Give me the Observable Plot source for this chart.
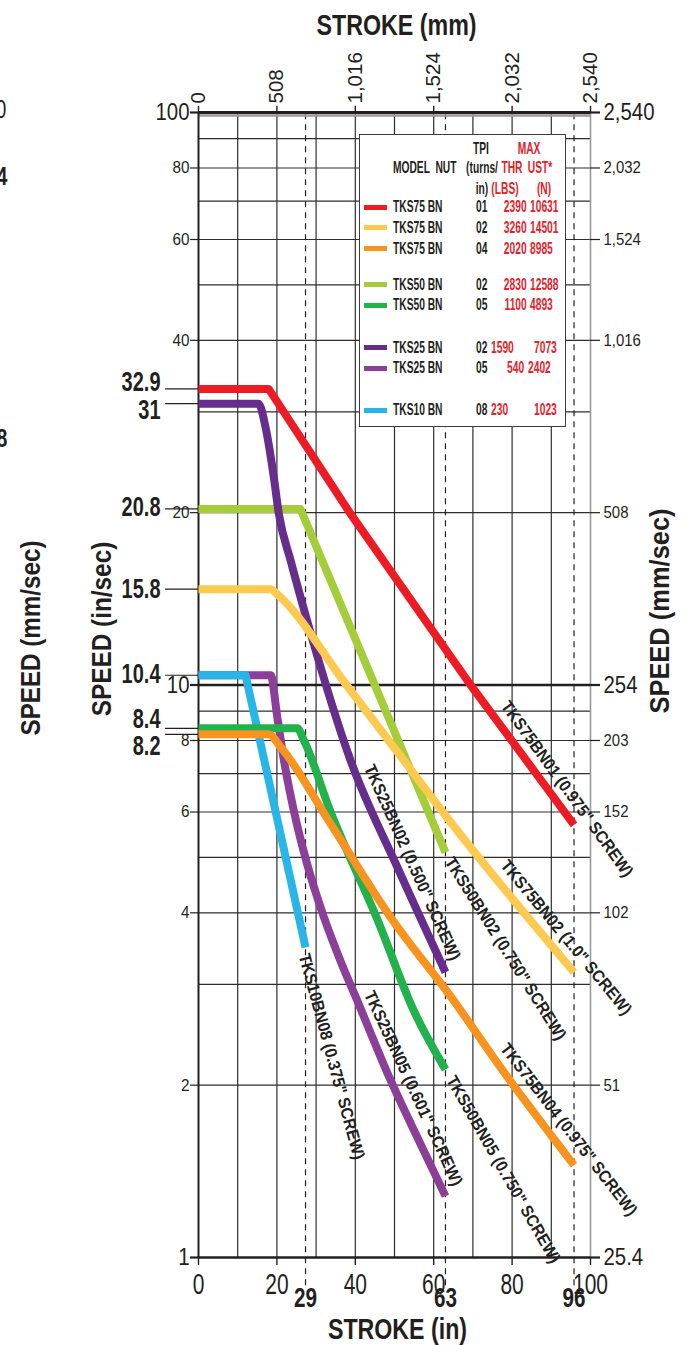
<!DOCTYPE html>
<html>
<head>
<meta charset="utf-8">
<script src="https://cdn.jsdelivr.net/npm/d3@7"></script>
<script src="https://cdn.jsdelivr.net/npm/@observablehq/plot@0.6"></script>
<style>
html,body{margin:0;padding:0;background:#fff;}
#page{position:relative;width:688px;height:1345px;overflow:hidden;font-family:"Liberation Sans",Arial,sans-serif;color:#231f20;}
#chart{position:absolute;left:0;top:0;}
#legendBox{position:absolute;left:359px;top:134px;width:205px;height:291px;background:#fff;border:1.4px solid #3c3c3c;}
.t{position:absolute;white-space:pre;line-height:1;font-weight:bold;}
.red{color:#e3212b;}
.sw{position:absolute;height:5px;width:23px;}
</style>
</head>
<body>
<div id="page"><div id="chart"></div><div id="legendBox"></div></div>
<script>
// ---------- data ----------
const strokeTicksIn = [0, 20, 40, 60, 80, 100];
const strokeTicksMm = ["0", "508", "1,016", "1,524", "2,032", "2,540"];
const strokeGridIn = [10, 20, 30, 40, 50, 60, 70, 80, 90];
const speedGridIn = [90, 80, 70, 60, 50, 40, 30, 20, 9, 8, 7, 6, 5, 4, 3, 2];
const speedTicksIn = [100, 80, 60, 40, 20, 10, 8, 6, 4, 2, 1];
const speedTicksMm = ["2,540", "2,032", "1,524", "1,016", "508", "254", "203", "152", "102", "51", "25.4"];
const speedTicksMajor = [100, 10, 1];

// speed (in/sec) vs stroke (in)
const tks75bn01 = [[0, 32.9], [17.9, 32.9], [38.8, 19.9], [69.4, 10.0], [95.8, 5.7]];
const tks75bn02 = [[0, 14.7], [18.4, 14.7], [20.1, 14.4], [37.5, 10.05], [52.4, 7.38], [63.9, 5.81], [95.8, 3.15]];
const tks75bn04 = [[0, 8.2], [17.9, 8.2], [20.9, 7.8], [33.7, 5.72], [49, 3.93], [65.1, 2.81], [77, 2.15], [95.8, 1.45]];
const tks50bn02 = [[0, 20.3], [26, 20.3], [63, 5.1]];
const tks50bn05 = [[0, 8.4], [25.2, 8.4], [26.9, 8.0], [33.7, 6.0], [45.6, 3.9], [54.9, 2.7], [63, 2.13]];
const tks25bn02 = [[0, 31], [15.3, 31], [17.1, 28.2], [19.2, 23.1], [20.5, 19.9], [23.5, 16.5], [27.7, 12.96], [38.8, 7.38], [50.7, 4.81], [63, 3.15]];
const tks25bn05 = [[0, 10.4], [18.4, 10.4], [20.1, 8.79], [21.8, 7.38], [24.3, 6.04], [27.7, 4.87], [32.0, 3.93], [36.2, 3.30], [40.5, 2.81], [49, 2.04], [56.6, 1.58], [63, 1.28]];
const tks10bn08 = [[0, 10.4], [12, 10.4], [27.3, 3.48]];

const markedStrokeText = ["29", "63", "96"];
const markedSpeedText = ["32.9", "31", "20.8", "15.8", "10.4", "8.4", "8.2"];

const legendModel = ["TKS75 BN", "TKS75 BN", "TKS75 BN", "TKS50 BN", "TKS50 BN", "TKS25 BN", "TKS25 BN", "TKS10 BN"];
const legendTpi = ["01", "02", "04", "02", "05", "02", "05", "08"];
const legendLbs = ["2390", "3260", "2020", "2830", "1100", "1590", "540", "230"];
const legendN = ["10631", "14501", "8985", "12588", "4893", "7073", "2402", "1023"];

const curveLabelText = ['TKS75BN01 (0.975" SCREW)', 'TKS75BN02 (1.0" SCREW)', 'TKS50BN02 (0.750" SCREW)', 'TKS25BN02 (0.500" SCREW)',
  'TKS10BN08 (0.375" SCREW)', 'TKS25BN05 (0.601" SCREW)', 'TKS50BN05 (0.750" SCREW)', 'TKS75BN04 (0.975" SCREW)'];

// ---------- styling / layout ----------
const C = {red: "#ed1c24", yellow: "#fdc94e", orange: "#f7931e", lime: "#a5cd39", green: "#22b14c", dpurple: "#662d8c", lpurple: "#8c3f99", cyan: "#29b5e8"};
const legendColors = [C.red, C.yellow, C.orange, C.lime, C.green, C.dpurple, C.lpurple, C.cyan];
const drawOrder = [
  {pts: tks25bn05, color: C.lpurple, curve: "monotone-x"}, {pts: tks10bn08, color: C.cyan, curve: "linear"},
  {pts: tks50bn05, color: C.green, curve: "monotone-x"}, {pts: tks75bn04, color: C.orange, curve: "monotone-x"},
  {pts: tks50bn02, color: C.lime, curve: "linear"}, {pts: tks25bn02, color: C.dpurple, curve: "monotone-x"},
  {pts: tks75bn02, color: C.yellow, curve: "monotone-x"}, {pts: tks75bn01, color: C.red, curve: "linear"}
];
// label anchor (start of text) in data units + angle
const curveLabelAt = [
  {x: 78.1, y: 9.3, a: 54.1}, {x: 77.9, y: 4.9, a: 50.4}, {x: 63.85, y: 4.97, a: 57.8}, {x: 43.45, y: 7.23, a: 65.9},
  {x: 26.87, y: 3.39, a: 74.9}, {x: 43.45, y: 2.91, a: 65.3}, {x: 64.3, y: 2.065, a: 60.3}, {x: 77.9, y: 2.346, a: 52.4}
];
const markedStrokeAt = [tks10bn08.at(-1)[0], tks50bn05.at(-1)[0], tks75bn01.at(-1)[0]];
const markedSpeedAt = [tks75bn01[0][1], tks25bn02[0][1], tks50bn02[0][1], tks75bn02[0][1], tks10bn08[0][1], tks50bn05[0][1], tks75bn04[0][1]];
const markedSpeedNudge = [-7, 7, -2, 0, -1, -9, 12];

const ink = "#231f20";
const minorY = speedTicksIn.filter(d => !speedTicksMajor.includes(d));
const mmOfSpeed = d => speedTicksMm[speedTicksIn.indexOf(d)];
const mmOfStroke = d => strokeTicksMm[strokeTicksIn.indexOf(d)];
const tag = name => ({ariaDescription: name, ariaLabel: () => name});

const plot = Plot.plot({
  width: 688, height: 1345,
  marginLeft: 198, marginRight: 98, marginTop: 112, marginBottom: 88,
  x: {domain: [0, 100], axis: null},
  y: {type: "log", domain: [1, 100], axis: null},
  style: {fontFamily: '"Liberation Sans", Arial, sans-serif', color: ink, background: "transparent", overflow: "visible"},
  marks: [
    Plot.ruleX(strokeGridIn, {stroke: "#2e2e2e", strokeWidth: 1.2}),
    Plot.ruleY(speedGridIn, {stroke: "#2e2e2e", strokeWidth: 1.2}),
    Plot.ruleX([100], {stroke: "#9a9a9a", strokeWidth: 1.6}),
    Plot.ruleX(markedStrokeAt, {y1: 0.893, y2: 100, stroke: ink, strokeWidth: 1.2, strokeDasharray: "6,5"}),
    Plot.ruleY([10], {x1: 0, x2: 100, stroke: ink, strokeWidth: 2.6}),
    Plot.ruleY([100], {x1: 0, x2: 100, dy: 3, stroke: "#9a9a9a", strokeWidth: 2.4}),
    Plot.ruleY([100], {x1: 0, x2: 100, stroke: ink, strokeWidth: 3}),
    Plot.ruleY([1], {x1: 0, x2: 100, stroke: ink, strokeWidth: 2.6}),
    Plot.ruleX([0], {y1: 1, y2: 100, stroke: ink, strokeWidth: 2}),
    // ticks
    Plot.ruleY(speedTicksIn, {x1: -2.05, x2: 0, stroke: ink, strokeWidth: d => speedTicksMajor.includes(d) ? 2.2 : 1.2}),
    Plot.ruleY(speedTicksIn, {x1: 100, x2: 102.55, stroke: ink, strokeWidth: d => speedTicksMajor.includes(d) ? 2.2 : 1.2}),
    Plot.ruleX(strokeTicksIn, {y1: 100, y2: 102.5, stroke: ink, strokeWidth: 1.4}),
    Plot.ruleX(strokeTicksIn, {y1: 1, y2: 0.968, stroke: ink, strokeWidth: 1.4}),
    Plot.ruleY(markedSpeedAt, {x1: -8.4, x2: 0, stroke: ink, strokeWidth: 1.2}),
    // curves
    ...drawOrder.map(s => Plot.line(s.pts, {x: d => d[0], y: d => d[1], curve: s.curve, stroke: s.color, strokeWidth: 8, strokeLinejoin: "round", strokeLinecap: "butt"})),
    // curve labels
    Plot.text(curveLabelText.map((t, i) => ({t, ...curveLabelAt[i]})), {x: "x", y: "y", text: "t", rotate: "a", textAnchor: "start", lineAnchor: "middle", fontSize: 17, fontWeight: "bold", ...tag("curve-label")}),
    // left axis labels
    Plot.text(minorY, {y: d => d, text: d => String(d), frameAnchor: "left", dx: -9, textAnchor: "end", lineAnchor: "middle", fontSize: 17, ...tag("ylab-minor")}),
    Plot.text(speedTicksMajor, {y: d => d, text: d => String(d), frameAnchor: "left", dx: -9, textAnchor: "end", lineAnchor: "middle", fontSize: 24, ...tag("ylab-major")}),
    // right axis labels
    Plot.text(minorY, {y: d => d, text: mmOfSpeed, frameAnchor: "right", dx: 13, textAnchor: "start", lineAnchor: "middle", fontSize: 17, ...tag("rlab-minor")}),
    Plot.text(speedTicksMajor, {y: d => d, text: mmOfSpeed, frameAnchor: "right", dx: 13, textAnchor: "start", lineAnchor: "middle", fontSize: 24, ...tag("rlab-major")}),
    // top axis labels (mm)
    Plot.text(strokeTicksIn, {x: d => d, text: mmOfStroke, frameAnchor: "top", dy: -9, rotate: -90, textAnchor: "start", lineAnchor: "middle", fontSize: 20.5, ...tag("toplab")}),
    // bottom axis labels (in)
    Plot.text(strokeTicksIn, {x: d => d, text: d => String(d), frameAnchor: "bottom", dy: 27, textAnchor: "middle", lineAnchor: "middle", fontSize: 30, ...tag("botlab")}),
    Plot.text(markedStrokeAt, {x: d => d, text: (d, i) => markedStrokeText[i], frameAnchor: "bottom", dy: 41, textAnchor: "middle", lineAnchor: "middle", fontSize: 28, fontWeight: "bold", ...tag("marked-x")}),
    // marked speeds
    Plot.text(markedSpeedAt, {y: d => d, text: (d, i) => markedSpeedText[i], frameAnchor: "left", dx: -38, textAnchor: "end", lineAnchor: "middle", fontSize: 27, fontWeight: "bold", ...tag("marked-y")}),
    // titles
    Plot.text(["STROKE (mm)"], {frameAnchor: "top", dx: 2, dy: -87, textAnchor: "middle", lineAnchor: "middle", fontSize: 30, fontWeight: "bold", ...tag("title-h")}),
    Plot.text(["STROKE (in)"], {frameAnchor: "bottom", dx: 3, dy: 72, textAnchor: "middle", lineAnchor: "middle", fontSize: 29, fontWeight: "bold", ...tag("title-h2")}),
    Plot.text(["SPEED (in/sec)"], {frameAnchor: "left", dx: -96, dy: -56, rotate: -90, textAnchor: "middle", lineAnchor: "middle", fontSize: 28, fontWeight: "bold", ...tag("title-v1")}),
    Plot.text(["SPEED (mm/sec)"], {frameAnchor: "left", dx: -167, dy: -47, rotate: -90, textAnchor: "middle", lineAnchor: "middle", fontSize: 28, fontWeight: "bold", ...tag("title-v2")}),
    Plot.text(["SPEED (mm/sec)"], {frameAnchor: "right", dx: 70, dy: -74, rotate: -90, textAnchor: "middle", lineAnchor: "middle", fontSize: 28, fontWeight: "bold", ...tag("title-v3")})
  ]
});

// condense text along its own direction to mimic the condensed face
function condense(label, c, nudge) {
  const set = new Set();
  plot.querySelectorAll(`[aria-label="${label}"], [aria-description="${label}"]`).forEach(n => {
    if (n.tagName.toLowerCase() === "text") set.add(n);
    else n.querySelectorAll("text").forEach(t => set.add(t));
  });
  [...set].forEach((t, i) => {
    const tr = t.getAttribute("transform") || "";
    const ny = nudge ? nudge[i] : 0;
    t.setAttribute("transform", `${tr} translate(0,${ny}) scale(${c},1)`);
  });
}
condense("curve-label", 0.92);
condense("ylab-minor", 0.9);
condense("ylab-major", 0.85);
condense("rlab-minor", 0.88);
condense("rlab-major", 0.85);
condense("toplab", 1.0);
condense("botlab", 0.7);
condense("marked-x", 0.74);
condense("marked-y", 0.74, markedSpeedNudge);
condense("title-h", 0.775);
condense("title-h2", 0.8);
condense("title-v1", 0.87);
condense("title-v2", 0.865);
condense("title-v3", 0.91);

document.getElementById("chart").append(plot);

// ---------- legend (HTML over the plot) ----------
const page = document.getElementById("page");
function put(txt, x, y, align, size, c, cls, weight) {
  const s = document.createElement("span");
  s.className = "t" + (cls ? " " + cls : "");
  s.textContent = txt;
  s.style.fontSize = size + "px";
  s.style.top = y + "px";
  if (weight) s.style.fontWeight = weight;
  if (align === "start") { s.style.left = x + "px"; s.style.transformOrigin = "0 50%"; s.style.transform = `translateY(-50%) scaleX(${c})`; }
  else if (align === "end") { s.style.right = (688 - x) + "px"; s.style.transformOrigin = "100% 50%"; s.style.transform = `translateY(-50%) scaleX(${c})`; }
  else { s.style.left = x + "px"; s.style.transform = `translate(-50%,-50%) scaleX(${c})`; }
  page.append(s);
}
const H = 16.5, HC = 0.62, R = 16, RC = 0.64;
put("TPI", 480.7, 147.5, "middle", H, HC);
put("MAX", 528.8, 147.5, "middle", H, HC, "red");
put("MODEL  NUT", 393.3, 166.7, "start", H, HC);
put("(turns/", 482, 166.7, "middle", H, HC);
put("THR", 511.7, 166.7, "middle", H, HC, "red");
put("UST*", 540, 166.7, "middle", H, HC, "red");
put("in)", 482, 187.5, "middle", H, HC);
put("(LBS)", 505, 187.5, "middle", H, HC, "red");
put("(N)", 544, 187.5, "middle", H, HC, "red");
const rowY = [207.2, 227.5, 248.5, 284.7, 305.3, 347.5, 368.3, 410.3];
const lbsPos = [["end", 527], ["end", 527], ["end", 527], ["end", 527], ["end", 527], ["start", 491], ["start", 507], ["start", 490.5]];
const nPos = [530, 530, 530, 530, 530, 534, 527.7, 534];
legendModel.forEach((m, i) => {
  const sw = document.createElement("div");
  sw.className = "sw";
  sw.style.left = "364.3px"; sw.style.top = (rowY[i] - 2.5) + "px"; sw.style.background = legendColors[i];
  page.append(sw);
  put(m, 393.3, rowY[i], "start", R, RC);
  put(legendTpi[i], 475.7, rowY[i], "start", R, RC);
  put(legendLbs[i], lbsPos[i][1], rowY[i], lbsPos[i][0], R, RC, "red");
  put(legendN[i], nPos[i], rowY[i], "start", R, RC, "red");
});

// clipped characters of a neighbouring figure at the very left edge
put("0", 6, 109, "end", 26, 0.75, null, "normal");
put("4", 7, 176, "end", 26, 0.75);
put("8", 7, 438, "end", 26, 0.75);
</script>
</body>
</html>
